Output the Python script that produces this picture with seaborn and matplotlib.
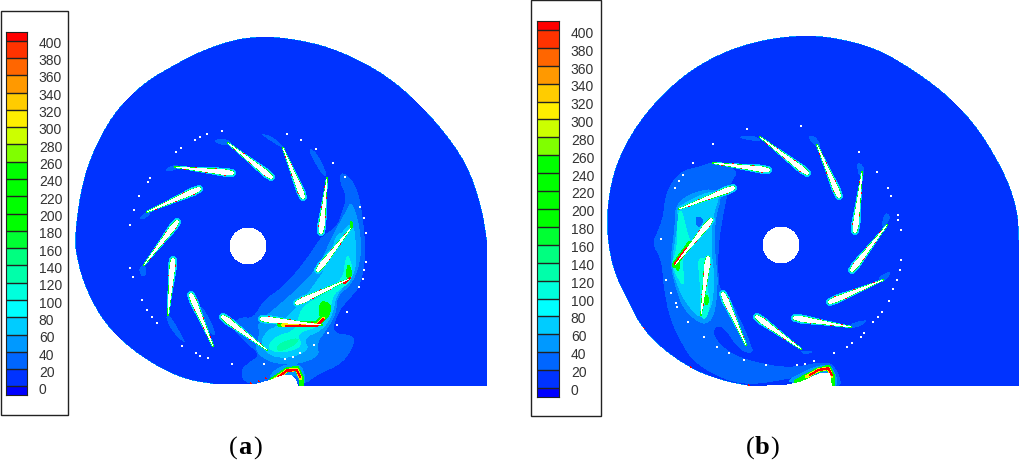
import matplotlib
matplotlib.use("Agg")
import matplotlib.pyplot as plt
import numpy as np
import seaborn as sns
from matplotlib.colors import ListedColormap
from matplotlib.patches import Rectangle
from matplotlib.path import Path

W, H = 1024, 463

# contour legend, bottom band first
BAND_COLORS = ['#0000ff', '#0033ff', '#0066ff', '#0099ff', '#00ccff', '#00ffff', '#00ffdd', '#00ffaa',
               '#00ff80', '#00ff33', '#00ff00', '#00ff00', '#00ff00', '#00ff00', '#80ff00', '#ccff00',
               '#ffee00', '#ffcc00', '#ff9900', '#ff6600', '#ff3300', '#ff0000']
LEGEND_LABELS = [400, 380, 360, 340, 320, 300, 280, 260, 240, 220, 200,
                 180, 160, 140, 120, 100, 80, 60, 40, 20, 0]
L1, L2, L3, L4, AQUA, TEAL, GREEN, YELLOW, RED = 2, 3, 4, 5, 6, 7, 10, 16, 21

# casing outlines, pixels
CASING_A = [(487, 240), (482, 207), (467, 163), (437, 122), (403, 88), (370, 65), (330, 47), (295, 39), (265, 36),
            (235, 39), (203, 50), (177, 63), (143, 83), (113, 113), (90, 157), (80, 193), (75, 233), (75, 250),
            (83, 283), (100, 317), (123, 343), (157, 367), (187, 380), (213, 384)]
TONGUE_A = [(255, 384), (270, 380), (283, 375), (292, 375), (296, 380), (298, 386), (487, 386)]
CASING_B = [(1019, 240), (1018, 212), (1007, 177), (980, 130), (950, 97), (917, 72), (877, 48), (833, 37), (800, 35),
            (760, 40), (720, 53), (683, 75), (650, 107), (627, 140), (613, 173), (607, 207), (607, 237), (613, 270),
            (627, 300), (643, 330), (667, 353), (697, 372), (727, 382), (750, 386)]
TONGUE_B = [(785, 385), (800, 382), (820, 373), (830, 373), (832, 386), (1019, 386)]

HUB_A = (248, 246)
HUB_B = (781, 245)
HUB_R = 18.5

# blades: inner end, tip
BLADES_A = [((232, 173), (175, 167)), ((271, 177), (228, 143)), ((303, 197), (283, 148)), ((321, 232), (327, 178)),
            ((318, 270), (351, 228)), ((297, 303), (349, 279)), ((262, 319), (322, 325)), ((223, 317), (267, 350)),
            ((191, 295), (213, 346)), ((173, 260), (168, 315)), ((177, 222), (144, 265)), ((199, 189), (147, 212))]
BLADES_B = [((768, 170), (713, 163)), ((807, 173), (760, 137)), ((839, 196), (817, 145)), ((855, 231), (862, 172)),
            ((852, 270), (887, 225)), ((830, 302), (883, 280)), ((795, 318), (851, 327)), ((757, 317), (801, 349)),
            ((723, 294), (746, 345)), ((708, 258), (701, 315)), ((711, 220), (675, 265)), ((733, 188), (679, 209))]
SPECKS = [0.1, 0.27, 0.45, 0.63, 0.82]
BLADE_T = [0, 0.12, 0.5, 1]
BLADE_HALF = [2.0, 2.8, 1.7, 0.4]

# white rim marks
RIM_A = [(222, 131), (207, 134), (200, 137), (195, 140), (181, 148), (176, 152), (150, 178), (148, 182), (139, 196),
         (134, 210), (130, 225), (130, 268), (133, 277), (142, 300), (147, 310), (152, 317), (157, 323), (182, 346),
         (196, 353), (200, 356), (208, 358), (232, 364), (264, 364), (285, 359), (293, 357), (300, 353), (314, 345),
         (328, 333), (337, 325), (347, 312), (359, 287), (363, 279), (364, 270), (366, 262), (366, 233), (364, 218),
         (360, 207), (345, 177), (333, 163), (316, 149), (301, 140), (287, 134)]
RIM_B = [(747, 129), (801, 126), (713, 144), (693, 163), (683, 175), (679, 181), (675, 188), (661, 239), (666, 280),
         (671, 293), (676, 303), (677, 307), (688, 322), (704, 337), (717, 347), (729, 353), (744, 360), (766, 365),
         (797, 365), (805, 364), (814, 361), (834, 353), (847, 347), (852, 343), (861, 337), (864, 333), (873, 322),
         (878, 317), (882, 312), (889, 301), (893, 289), (897, 280), (900, 270), (901, 260), (901, 230), (898, 220),
         (898, 215), (891, 196), (888, 188), (877, 172), (859, 152)]

WAKES_A = [
    (L1, [(660, 155), (690, 170), (715, 215), (728, 290), (735, 360), (735, 430), (720, 500), (690, 535), (655, 575),
          (635, 640), (700, 645), (705, 670), (670, 730), (590, 765), (552, 797), (375, 797), (360, 750), (390, 725),
          (420, 705), (380, 670), (330, 620), (360, 590), (400, 595), (430, 540), (490, 500), (550, 430), (590, 370),
          (605, 350), (650, 320), (665, 280), (680, 230), (660, 190)]),
    (L1, [(130, 150), (170, 130), (180, 145), (150, 155)]),
    (L1, [(275, 60), (320, 55), (340, 75), (300, 75)]),
    (L1, [(415, 38), (460, 50), (495, 85), (470, 75)]),
    (L1, [(560, 82), (590, 95), (625, 170), (605, 165)]),
    (L1, [(55, 295), (85, 270), (95, 280), (70, 300)]),
    (L1, [(55, 445), (75, 430), (80, 465), (65, 472)]),
    (L1, [(135, 590), (150, 585), (185, 645), (200, 675), (160, 640)]),
    (L1, [(230, 560), (250, 560), (290, 640), (275, 650)]),
    (L2, [(680, 270), (695, 240), (720, 320), (725, 410), (700, 490), (650, 530), (650, 580), (620, 630), (590, 670),
          (600, 710), (530, 735), (450, 730), (400, 690), (420, 640), (410, 610), (470, 560), (550, 490), (600, 430), (640, 340)]),
    (L3, [(700, 300), (710, 390), (705, 470), (650, 520), (640, 580), (610, 630), (550, 655), (570, 690), (510, 715),
          (450, 710), (420, 670), (440, 630), (470, 620), (540, 550), (570, 510), (620, 440), (660, 340)]),
    (L3, [(640, 360), (660, 335), (675, 350), (640, 400)]),
    (AQUA, [(685, 400), (700, 450), (690, 490), (640, 520), (630, 580), (600, 620), (530, 640), (550, 680), (490, 700),
            (440, 690), (460, 650), (530, 630), (540, 560), (620, 520), (670, 470), (675, 420)]),
    (GREEN, [(680, 430), (695, 440), (695, 480), (678, 480)]),
    (GREEN, [(600, 540), (635, 550), (630, 590), (605, 605), (595, 580)]),
    (TEAL, [(470, 670), (540, 650), (530, 675), (470, 700)]),
    (GREEN, [(688, 300), (700, 305), (700, 325), (690, 325)]),
    (L2, [(440, 775), (480, 735), (540, 730), (555, 760), (555, 793), (540, 793), (530, 765), (490, 770)]),
]
HOT_A = [
    (GREEN, 3.0, [(480, 612), (590, 612), (612, 592)]),
    (YELLOW, 2.0, [(490, 615), (590, 616), (610, 596)]),
    (RED, 1.4, [(500, 618), (590, 618), (610, 598)]),
    (GREEN, 2.6, [(450, 785), (500, 750), (530, 745), (545, 775), (545, 793)]),
    (YELLOW, 1.8, [(465, 778), (500, 752), (530, 748), (542, 775)]),
    (RED, 1.2, [(470, 775), (500, 752), (530, 750), (540, 770)]),
    (RED, 1.2, [(672, 490), (690, 474)]),
]
WAKES_B = [
    (L1, [(215, 125), (300, 150), (270, 190), (250, 280), (235, 380), (235, 470), (240, 510), (270, 530), (345, 695),
          (320, 700), (290, 680), (250, 620), (225, 620), (220, 650), (270, 700), (340, 725), (450, 745), (560, 722),
          (590, 745), (607, 797), (580, 797), (560, 760), (480, 770), (330, 797), (240, 775), (160, 725), (130, 680),
          (90, 600), (70, 500), (65, 420), (35, 370), (55, 330), (70, 285), (75, 230), (95, 185), (130, 150), (180, 140)]),
    (L1, [(290, 50), (340, 45), (370, 65), (320, 60)]),
    (L1, [(500, 45), (530, 50), (545, 85), (520, 75)]),
    (L1, [(650, 125), (670, 135), (675, 165), (655, 170)]),
    (L1, [(735, 275), (755, 290), (730, 325), (725, 310)]),
    (L1, [(715, 470), (755, 450), (745, 475), (720, 490)]),
    (L1, [(630, 610), (690, 597), (660, 620), (630, 625)]),
    (L1, [(480, 690), (530, 695), (490, 705)]),
    (L1, [(315, 675), (345, 690), (325, 697)]),
    (L2, [(105, 265), (130, 230), (200, 205), (250, 215), (225, 300), (225, 400), (235, 480), (225, 590), (190, 620),
          (130, 570), (105, 500), (90, 430), (100, 350), (105, 300)]),
    (L2, [(430, 785), (530, 735), (575, 735), (592, 775), (592, 797), (575, 797), (560, 765), (480, 790)]),
    (L3, [(110, 265), (130, 250), (200, 215), (245, 215), (215, 300), (215, 400), (225, 480), (215, 570), (180, 600),
          (130, 540), (105, 480), (95, 430), (105, 360), (115, 300)]),
    (L1, [(170, 285), (195, 300), (180, 325), (165, 310)]),
    (AQUA, [(112, 272), (128, 272), (140, 330), (155, 370), (125, 420), (135, 480), (128, 500), (105, 460), (95, 430), (112, 380)]),
    (AQUA, [(170, 410), (215, 420), (200, 490), (212, 550), (200, 600), (178, 590), (180, 480)]),
    (GREEN, [(100, 425), (115, 405), (122, 440), (112, 460)]),
    (GREEN, [(192, 520), (208, 528), (205, 558), (192, 553)]),
]
HOT_B = [
    (GREEN, 2.8, [(103, 435), (150, 370)]),
    (RED, 1.3, [(105, 432), (140, 385)]),
    (GREEN, 2.6, [(470, 785), (530, 752), (565, 742), (578, 770), (578, 792)]),
    (YELLOW, 1.8, [(500, 770), (535, 750), (565, 745), (575, 770)]),
    (RED, 1.2, [(510, 765), (535, 750), (565, 745), (575, 765)]),
    (RED, 1.2, [(465, 590), (490, 595)]),
]
WALL_SPECKS_B = [(637, 322), (643, 328), (663, 350), (680, 363), (690, 367), (717, 380), (748, 385)]
WALL_SPECKS_A = [(250, 383), (258, 381), (265, 378)]

ys, xs = np.mgrid[0:H, 0:W] + 0.5
pts = np.column_stack([xs.ravel(), ys.ravel()])
grid = np.full((H, W), -1.0)


def soften(points, rounds=2):
    # corner cutting, keeps the hand read outlines from looking faceted
    p = np.asarray(points, float)
    for _ in range(rounds):
        nxt = np.roll(p, -1, axis=0)
        p = np.column_stack([0.75 * p + 0.25 * nxt, 0.25 * p + 0.75 * nxt]).reshape(-1, 2)
    return p


def soften_open(points, rounds=2):
    p = np.asarray(points, float)
    for _ in range(rounds):
        q = np.column_stack([0.75 * p[:-1] + 0.25 * p[1:], 0.25 * p[:-1] + 0.75 * p[1:]]).reshape(-1, 2)
        p = np.vstack([p[0], q, p[-1]])
    return p


def fill_poly(points, level):
    inside = Path(points).contains_points(pts).reshape(H, W)
    grid[inside] = level


def stroke(points, width, level):
    for a, b in zip(points[:-1], points[1:]):
        a, b = np.asarray(a, float), np.asarray(b, float)
        d = b - a
        t = np.clip(((xs - a[0]) * d[0] + (ys - a[1]) * d[1]) / (d @ d), 0, 1)
        grid[np.hypot(xs - a[0] - t * d[0], ys - a[1] - t * d[1]) <= width] = level


def crop_pts(points, ox):
    return [(ox + x / 3, 120 + y / 3) for x, y in points]


def draw_blade(inner, tip):
    a, b = np.asarray(inner, float), np.asarray(tip, float)
    d = b - a
    t = np.clip(((xs - a[0]) * d[0] + (ys - a[1]) * d[1]) / (d @ d), 0, 1)
    dist = np.hypot(xs - a[0] - t * d[0], ys - a[1] - t * d[1])
    half = np.interp(t, BLADE_T, BLADE_HALF)
    grid[(dist <= half + 1.5 * (1 - t) + 0.5) & (grid < L3)] = L3
    grid[(dist <= half + 0.8) & (grid < AQUA)] = AQUA
    grid[(dist <= half + 0.4) & (grid < GREEN)] = GREEN
    n = np.array([-d[1], d[0]]) / np.hypot(*d)
    for i, s in enumerate(SPECKS):
        side = 1 if i % 2 else -1
        c = a + s * d + side * n * (np.interp(s, BLADE_T, BLADE_HALF) + 0.2)
        stroke([c, c + 0.02 * d], 0.55, RED)
    grid[dist <= half] = -1


def draw_panel(casing, tongue, hub, blades, rim, wakes, hot, wall_specks, ox):
    curve = soften_open(casing)
    inside = Path(np.vstack([curve, tongue])).contains_points(pts).reshape(H, W)
    grid[inside] = 1
    for level, region in wakes:
        fill_poly(soften(crop_pts(region, ox)), level)
    for level, width, line in hot:
        stroke(crop_pts(line, ox), width, level)
    stroke(curve, 0.5, L2)
    for x, y in wall_specks:
        stroke([(x, y), (x + 1, y + 0.5)], 0.7, RED)
    for inner, tip in blades:
        draw_blade(inner, tip)
    grid[np.hypot(xs - hub[0], ys - hub[1]) <= HUB_R] = -1
    for x, y in rim:
        grid[np.hypot(xs - x, ys - y) <= 0.75] = -1
    # anything painted past the casing goes back to paper, this panel only
    panel = (xs > ox - 100) & (xs < ox + 400)
    grid[panel & ~inside] = -1


draw_panel(CASING_A, TONGUE_A, HUB_A, BLADES_A, RIM_A, WAKES_A, HOT_A, WALL_SPECKS_A, 120)
draw_panel(CASING_B, TONGUE_B, HUB_B, BLADES_B, RIM_B, WAKES_B, HOT_B, WALL_SPECKS_B, 640)

fig = plt.figure(figsize=(W / 100, H / 100), dpi=100, facecolor='white')
ax = fig.add_axes([0, 0, 1, 1])
cmap = ListedColormap(BAND_COLORS)
sns.heatmap(grid, mask=grid < 0, cmap=cmap, vmin=-0.5, vmax=21.5, cbar=False,
            xticklabels=False, yticklabels=False, ax=ax)

plt.rcParams['font.family'] = ['Liberation Sans', 'DejaVu Sans']


def draw_legend(box, bar, label_top, label_step):
    ax.add_patch(Rectangle((box[0] + 1, box[1] + 1), box[2] - box[0], box[3] - box[1], fc='#b8b8b8', ec='none', zorder=3))
    ax.add_patch(Rectangle((box[0], box[1]), box[2] - box[0], box[3] - box[1], fc='white', ec='#222222', lw=1.0, zorder=4))
    cax = fig.add_axes([bar[0] / W, 1 - bar[3] / H, (bar[2] - bar[0]) / W, (bar[3] - bar[1]) / H], zorder=5)
    # half bands so the first and last cell come out short
    halves = np.repeat(np.arange(21, -1, -1), [1] + [2] * 20 + [1]).reshape(-1, 1)
    sns.heatmap(halves, cmap=cmap, vmin=-0.5, vmax=21.5, cbar=False, xticklabels=False, yticklabels=False, ax=cax)
    row = (bar[3] - bar[1]) / len(halves)
    for k in range(1, 42, 2):
        cax.axhline(k, color='#222222', lw=1.0)
    for s in cax.spines.values():
        s.set_visible(True)
        s.set_color('#222222')
        s.set_linewidth(0.8)
    cax.yaxis.tick_right()
    cax.set_yticks([(label_top + i * label_step - bar[1]) / row for i in range(len(LEGEND_LABELS))], LEGEND_LABELS,
                   rotation=0, fontsize=10, color='#333333')
    cax.tick_params(axis='y', length=0, pad=8.5)


draw_legend((1, 11, 68, 415), (6, 32, 27, 395), 42.3, 17.33)
draw_legend((531, 0, 601, 416), (537, 21, 559, 397), 32.3, 17.85)

serif = ['Liberation Serif', 'DejaVu Serif']
for cx, letter in [(245, 'a'), (762, 'b')]:
    ax.text(cx - 7, 448, '(', ha='right', va='center', fontsize=19, family=serif)
    ax.text(cx, 448, letter, ha='center', va='center', fontsize=19, fontweight='bold', family=serif)
    ax.text(cx + 8, 448, ')', ha='left', va='center', fontsize=19, family=serif)

fig.savefig('out.png', dpi=100)
